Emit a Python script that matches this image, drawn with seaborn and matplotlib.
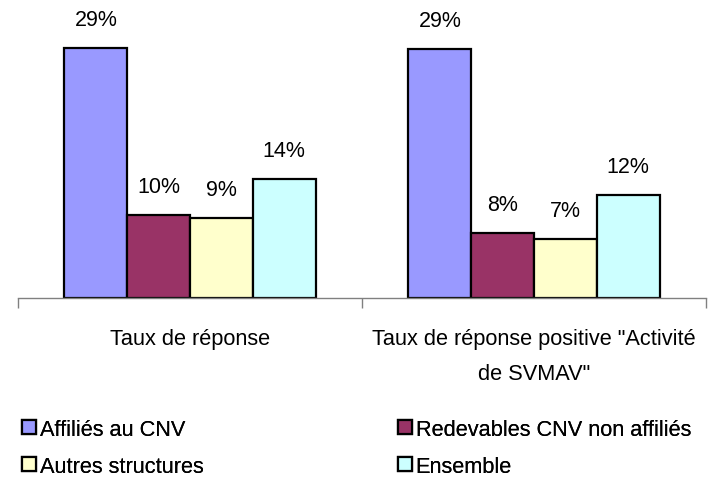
import numpy as np
import pandas as pd
import matplotlib
matplotlib.use("Agg")
import matplotlib.pyplot as plt
from matplotlib.lines import Line2D
import seaborn as sns

# data (percent)
categories = ['Taux de réponse', 'Taux de réponse positive "Activité\nde SVMAV"']
series = ["Affiliés au CNV", "Redevables CNV non affiliés", "Autres structures", "Ensemble"]
affilies = [29.3, 29.2]
redevables = [9.8, 7.6]
autres = [9.4, 7.0]
ensemble = [14.0, 12.1]
labels = {
    "Affiliés au CNV": ["29%", "29%"],
    "Redevables CNV non affiliés": ["10%", "8%"],
    "Autres structures": ["9%", "7%"],
    "Ensemble": ["14%", "12%"],
}
colors = ["#9999FF", "#993366", "#FFFFCC", "#CCFFFF"]

df = pd.DataFrame({
    "cat": categories * 4,
    "serie": np.repeat(series, 2),
    "val": affilies + redevables + autres + ensemble,
})

sns.set_style("white")
plt.rcParams["font.family"] = ["Liberation Sans", "DejaVu Sans"]
plt.rcParams["text.color"] = "black"

W, H = 709, 481
FS = 15.7
fig = plt.figure(figsize=(W / 100, H / 100), dpi=100)
ax = fig.add_axes([18 / W, (H - 299.3) / H, 688 / W, 298.5 / H])

sns.barplot(data=df, x="cat", y="val", hue="serie", hue_order=series,
            palette=colors, width=0.73, edgecolor="black", linewidth=1.6,
            saturation=1, legend=False, ax=ax)

for cont, s in zip(ax.containers, series):
    ax.bar_label(cont, labels=labels[s], padding=13, fontsize=15.5, color="black")

ax.set_xlim(-0.5, 1.5)
ax.set_ylim(0, 35)
ax.set_yticks([])
ax.set_xlabel("")
ax.set_ylabel("")
for side in ["top", "right", "left"]:
    ax.spines[side].set_visible(False)
ax.spines["bottom"].set_color("#808080")
ax.spines["bottom"].set_linewidth(1)

# category labels between boundary ticks
ax.set_xticks([-0.5, 0.5, 1.5])
ax.set_xticklabels([])
ax.tick_params(axis="x", bottom=True, length=7, color="#808080", width=1)
for i, c in enumerate(categories):
    ax.text(i, -3.5, c, ha="center", va="top", fontsize=FS, linespacing=1.85)

handles = [Line2D([], [], ls="", marker="s", markersize=10.5, markerfacecolor=col,
                  markeredgecolor="black", markeredgewidth=1.6) for col in colors]
for cols, x0 in [([0, 2], 21), ([1, 3], 397)]:
    leg = fig.legend([handles[i] for i in cols], [series[i] for i in cols],
                     loc="upper left", bbox_to_anchor=(x0 / W, 1 - 420 / H),
                     frameon=False, fontsize=FS, handlelength=0.7, handletextpad=0.15,
                     labelspacing=0.72, borderpad=0, borderaxespad=0)
    fig.add_artist(leg)

fig.savefig("out.png", dpi=100)
